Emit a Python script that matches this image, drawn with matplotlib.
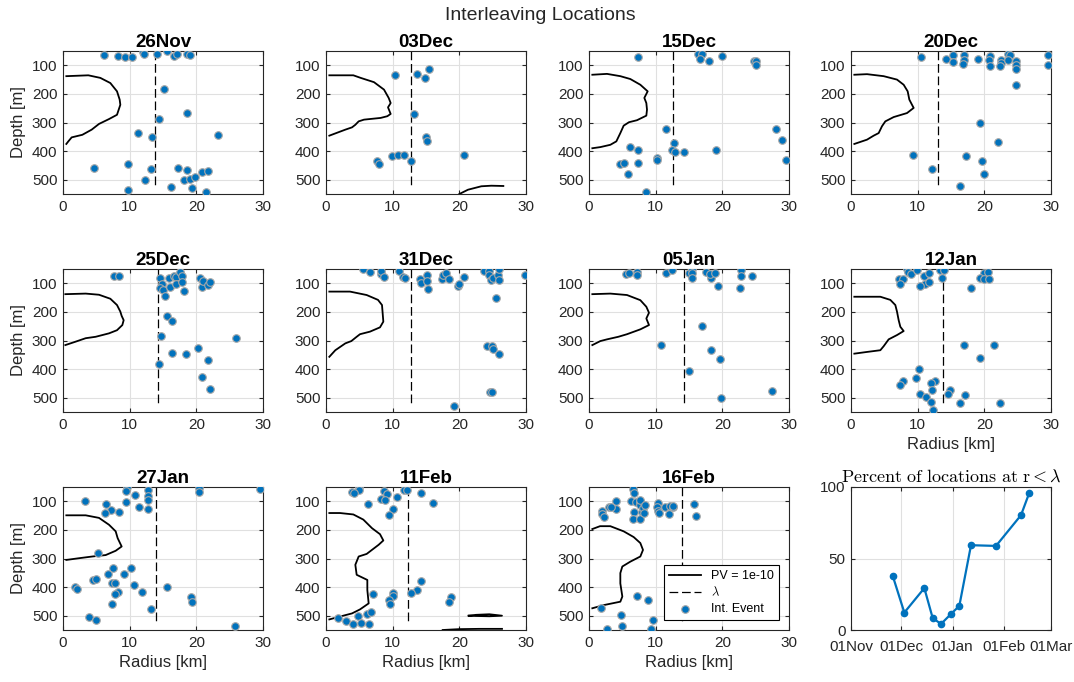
import numpy as np
import matplotlib.pyplot as plt
import matplotlib.dates as mdates
from datetime import datetime

plt.rcParams['font.family'] = ['Liberation Sans', 'DejaVu Sans']
plt.rcParams['mathtext.fontset'] = 'cm'

BLUE = '#0072BD'
DARK = '#262626'

# ---- interleaving events (radius km, depth m), lambda, PV = 1e-10 contour ----
r_26nov = [6.1, 8.2, 9.3, 10.3, 12.0, 12.2, 14.1, 15.6, 16.6, 17.1, 18.6, 19.1, 15.2, 18.6, 14.4, 11.3, 13.4,
           23.3, 4.6, 9.7, 13.2, 12.3, 17.3, 18.6, 18.2, 19.0, 19.8, 20.8, 21.8, 16.2, 19.3, 21.5, 9.8]
z_26nov = [63, 66, 72, 71, 55, 60, 59, 50, 67, 60, 59, 65, 183, 268, 288, 338, 352,
           344, 460, 444, 464, 501, 460, 466, 501, 498, 489, 473, 471, 527, 530, 542, 536]
lam_26nov = 13.8
pv_26nov = [([0.5, 3.8, 5.6, 7.1, 8.1, 8.5, 8.6, 8.1, 6.9, 5.4, 4.3, 2.9, 1.3, 0.8, 0.5],
             [138, 135, 144, 162, 191, 220, 238, 273, 288, 305, 325, 343, 352, 366, 375])]

r_03dec = [10.4, 13.7, 15.5, 14.9, 13.2, 15.0, 15.2, 7.6, 8.0, 9.9, 10.8, 11.7, 12.7, 20.7]
z_03dec = [134, 130, 112, 144, 271, 350, 364, 436, 446, 418, 414, 413, 436, 413]
lam_03dec = 12.8
pv_03dec = [([0.5, 4.1, 5.2, 7.2, 8.7, 9.4, 9.7, 9.3, 9.7, 9.2, 8.2, 5.7, 4.9, 4.4, 3.9, 2.9, 0.5],
             [135, 135, 144, 159, 185, 214, 232, 247, 270, 278, 284, 290, 296, 308, 317, 325, 346]),
            ([20.0, 21.3, 23.3, 24.8, 26.6], [550, 535, 523, 521, 522])]

r_15dec = [7.3, 16.3, 17.0, 16.6, 18.0, 20.0, 24.7, 25.0, 25.1, 28.0, 28.9, 29.6, 11.6, 12.8, 12.5, 12.9,
           14.3, 19.1, 6.2, 7.4, 10.2, 10.2, 4.6, 5.2, 7.4, 5.8, 8.5]
z_15dec = [70, 60, 60, 78, 85, 66, 86, 84, 100, 323, 360, 430, 323, 372, 397, 403,
           402, 396, 386, 397, 423, 430, 445, 442, 443, 479, 543]
lam_15dec = 12.6
pv_15dec = [([0.5, 2.7, 4.7, 6.2, 7.7, 8.8, 8.3, 8.6, 8.7, 8.6, 7.2, 6.0, 5.2, 4.7, 4.1, 3.2, 1.7, 0.5],
             [133, 130, 138, 148, 168, 191, 214, 232, 255, 276, 292, 299, 311, 337, 366, 378, 386, 390])]

r_20dec = [10.5, 14.3, 15.3, 15.3, 16.9, 16.9, 16.8, 19.1, 20.8, 20.7, 20.9, 22.5, 22.5, 22.4, 23.6, 23.8,
           23.6, 24.8, 24.8, 24.8, 24.8, 29.6, 29.6, 19.4, 22.0, 9.3, 17.3, 19.6, 20.0, 12.1, 16.3]
z_20dec = [72, 77, 64, 88, 64, 80, 95, 79, 66, 82, 101, 80, 91, 103, 62, 65,
           81, 86, 98, 114, 170, 65, 99, 302, 368, 412, 418, 433, 480, 462, 521]
lam_20dec = 13.1
pv_20dec = [([0.5, 2.4, 4.9, 6.9, 7.9, 8.5, 8.75, 9.15, 9.4, 8.4, 6.4, 5.15, 4.65, 4.15, 3.4, 2.4, 0.5],
             [133, 131, 138, 150, 168, 191, 220, 238, 249, 267, 281, 296, 313, 337, 346, 360, 375])]

r_25dec = [7.7, 8.4, 14.6, 14.9, 14.6, 15.0, 15.3, 15.9, 16.0, 16.7, 17.0, 16.9, 17.5, 17.9, 17.9, 18.1,
           20.6, 20.8, 21.0, 21.8, 22.1, 15.6, 16.4, 14.7, 26.0, 16.3, 18.5, 20.3, 21.8, 14.4, 20.9, 22.1]
z_25dec = [74, 74, 80, 104, 116, 122, 145, 81, 112, 74, 79, 102, 62, 74, 97, 128,
           83, 112, 91, 107, 95, 215, 232, 286, 290, 345, 347, 327, 367, 381, 427, 471]
lam_25dec = 14.3
pv_25dec = [([0.35, 3.4, 5.4, 7.1, 8.1, 8.6, 8.8, 9.1, 8.9, 8.1, 6.9, 4.9, 3.4, 1.9, 0.35],
             [138, 136, 140, 154, 176, 199, 214, 229, 246, 264, 275, 287, 292, 304, 316])]

r_31dec = [5.5, 6.6, 8.2, 8.3, 8.7, 10.9, 11.6, 11.9, 14.1, 14.2, 15.2, 15.2, 15.3, 17.4, 17.5, 18.0, 18.4,
           19.8, 20.0, 20.7, 23.7, 24.4, 24.5, 24.7, 25.0, 25.8, 25.9, 25.9, 29.8, 25.5, 24.2, 24.9, 25.0,
           26.0, 24.6, 24.9, 19.2]
z_31dec = [51, 61, 66, 56, 77, 58, 77, 80, 85, 100, 72, 92, 119, 84, 72, 63, 84,
           111, 102, 78, 56, 56, 72, 89, 81, 72, 50, 88, 72, 151, 320, 319, 330,
           347, 479, 479, 530]
lam_31dec = 12.8
pv_31dec = [([0.5, 3.6, 6.1, 7.8, 8.4, 8.5, 8.6, 8.1, 6.6, 5.1, 4.6, 3.8, 2.9, 1.4, 0.5],
             [129, 129, 141, 158, 176, 205, 234, 254, 269, 278, 287, 302, 310, 334, 357])]

r_05jan = [5.5, 6.0, 7.2, 7.2, 11.5, 12.4, 15.0, 15.4, 15.4, 15.4, 17.6, 18.3, 18.2, 18.9, 19.3, 22.8,
           22.8, 24.4, 22.7, 17.0, 10.8, 18.3, 19.7, 15.0, 19.8, 27.5]
z_05jan = [69, 64, 61, 72, 64, 52, 63, 51, 63, 83, 62, 81, 69, 64, 108, 55,
           74, 74, 115, 250, 314, 333, 366, 407, 501, 476]
lam_05jan = 14.2
pv_05jan = [([0.5, 3.2, 5.7, 7.7, 8.6, 9.0, 8.6, 9.0, 7.7, 5.7, 4.4, 2.7, 1.7, 0.5],
             [138, 136, 141, 159, 182, 203, 223, 246, 261, 278, 287, 296, 302, 316])]

r_12jan = [8.35, 8.55, 9.0, 9.9, 7.25, 7.85, 7.3, 10.95, 11.75, 11.15, 11.65, 10.3, 13.35, 13.9, 13.6,
           20.0, 20.55, 19.4, 20.0, 20.65, 17.95, 17.0, 21.4, 19.4, 10.15, 9.7, 7.8, 7.4, 12.55, 11.95,
           12.2, 10.3, 11.2, 12.05, 12.35, 14.85, 14.6, 17.05, 16.4, 22.4]
z_12jan = [50, 60, 67, 52, 86, 85, 104, 73, 65, 101, 95, 110, 52, 52, 82,
           63, 61, 81, 84, 84, 115, 316, 315, 362, 401, 432, 443, 456, 441, 447,
           474, 488, 498, 516, 544, 474, 487, 492, 518, 518]
lam_12jan = 13.8
pv_12jan = [([0.5, 4.4, 5.9, 6.65, 6.9, 7.15, 7.4, 7.9, 6.9, 5.65, 4.9, 4.4, 2.4, 0.5],
             [147, 147, 158, 176, 199, 229, 252, 267, 281, 296, 320, 334, 340, 346])]

r_27jan = [9.6, 9.5, 10.75, 12.8, 12.7, 12.8, 12.7, 11.4, 9.45, 3.3, 6.5, 7.25, 6.3, 8.35, 20.35, 20.35,
           29.6, 5.2, 7.55, 10.2, 6.8, 9.2, 4.5, 5.0, 7.4, 7.8, 10.7, 1.85, 2.05, 8.25, 7.75, 11.9, 7.4,
           13.25, 15.6, 19.25, 19.4, 3.9, 5.0, 25.8]
z_27jan = [50, 64, 77, 62, 82, 94, 128, 119, 104, 98, 109, 129, 140, 136, 52, 66,
           56, 282, 332, 332, 354, 355, 375, 373, 384, 386, 393, 398, 405, 416, 424, 416, 458,
           478, 398, 436, 451, 506, 515, 535]
lam_27jan = 13.9
pv_27jan = [([0.5, 3.4, 5.4, 6.9, 7.9, 8.2, 8.8, 7.9, 6.4, 4.4, 2.4, 0.5],
             [149, 149, 158, 182, 205, 229, 258, 273, 288, 293, 299, 305])]

r_11feb = [4.9, 4.9, 3.9, 4.2, 8.7, 9.1, 8.3, 8.8, 10.6, 11.7, 12.2, 14.3, 6.3, 16.0, 10.0, 9.5, 14.2,
           13.6, 12.7, 7.0, 10.0, 10.1, 9.4, 9.6, 18.7, 18.5, 1.75, 4.8, 6.1, 6.8, 3.0, 4.0, 5.3, 6.4]
z_11feb = [50, 59, 67, 71, 63, 76, 91, 96, 84, 60, 62, 70, 109, 106, 126, 148, 378,
           411, 420, 425, 419, 431, 444, 460, 433, 452, 507, 500, 494, 488, 520, 530, 525, 530]
lam_11feb = 12.3
pv_11feb = [([0.5, 2.1, 4.1, 5.6, 6.9, 8.1, 8.6, 7.9, 6.1, 4.9, 4.4, 4.6, 6.2, 6.2, 6.4, 5.1, 3.9, 2.1, 0.5],
             [141, 141, 146, 164, 194, 215, 237, 252, 284, 293, 322, 357, 375, 410, 457, 478, 492, 503, 513]),
            ([21.4, 22.5, 24.5, 26.4, 24.5, 22.5, 21.4], [500, 497, 495, 500, 502, 501, 500]),
            ([17.5, 20.0, 23.0, 26.4], [550, 547, 546, 546])]

r_16feb = [6.55, 6.8, 6.3, 7.0, 6.75, 6.55, 7.6, 7.6, 7.7, 7.95, 7.7, 8.05, 8.4, 8.2, 4.0, 4.05, 2.95,
           3.25, 2.0, 2.0, 2.2, 10.3, 10.15, 10.35, 10.5, 11.4, 12.0, 12.2, 12.55, 12.6, 15.8, 16.05,
           1.8, 7.2, 8.9, 4.85, 4.9, 2.7, 9.6, 9.25]
z_16feb = [56, 72, 98, 102, 136, 161, 104, 113, 95, 136, 161, 125, 113, 142, 100, 127, 119,
           119, 135, 143, 155, 107, 119, 133, 141, 119, 145, 118, 119, 115, 109, 150,
           472, 430, 445, 499, 535, 545, 514, 547]
lam_16feb = 13.9
pv_16feb = [([0.5, 1.65, 3.2, 5.2, 6.7, 7.7, 8.1, 7.7, 6.2, 5.0, 4.7, 4.7, 5.0, 4.7, 2.2, 0.5],
             [197, 187, 187, 205, 225, 246, 270, 293, 311, 328, 351, 387, 433, 451, 463, 474]),
            ([21.0, 23.5, 26.4, 23.5, 21.0], [507, 504, 509, 511, 507])]

# ---- percent of locations inside lambda ----
pct_dates = ['2017-11-26', '2017-12-03', '2017-12-15', '2017-12-20', '2017-12-25', '2017-12-31',
             '2018-01-05', '2018-01-12', '2018-01-27', '2018-02-11', '2018-02-16']
pct_vals = [38.0, 12.2, 29.3, 8.4, 4.2, 11.2, 16.9, 59.3, 58.8, 80.3, 96.0]

panels = [
    ('26Nov', r_26nov, z_26nov, lam_26nov, pv_26nov),
    ('03Dec', r_03dec, z_03dec, lam_03dec, pv_03dec),
    ('15Dec', r_15dec, z_15dec, lam_15dec, pv_15dec),
    ('20Dec', r_20dec, z_20dec, lam_20dec, pv_20dec),
    ('25Dec', r_25dec, z_25dec, lam_25dec, pv_25dec),
    ('31Dec', r_31dec, z_31dec, lam_31dec, pv_31dec),
    ('05Jan', r_05jan, z_05jan, lam_05jan, pv_05jan),
    ('12Jan', r_12jan, z_12jan, lam_12jan, pv_12jan),
    ('27Jan', r_27jan, z_27jan, lam_27jan, pv_27jan),
    ('11Feb', r_11feb, z_11feb, lam_11feb, pv_11feb),
    ('16Feb', r_16feb, z_16feb, lam_16feb, pv_16feb),
]

W, H = 1074, 682
fig = plt.figure(figsize=(W / 100, H / 100), dpi=100)
lefts = [63, 326, 589, 851]
tops = [51, 269, 487]
aw, ah = 200, 143


def add_ax(i):
    row, col = divmod(i, 4)
    return fig.add_axes([lefts[col] / W, 1 - (tops[row] + ah) / H, aw / W, ah / H])


def style(ax):
    ax.grid(True, color='#e0e0e0', lw=0.8)
    ax.set_axisbelow(True)
    for s in ax.spines.values():
        s.set_color(DARK)
        s.set_linewidth(0.8)
    ax.tick_params(direction='in', length=3, width=0.8, colors=DARK, labelsize=11,
                   top=True, right=True, pad=4)


for i, (name, r, z, lam, pv) in enumerate(panels):
    ax = add_ax(i)
    style(ax)
    for k, (pr, pz) in enumerate(pv):
        ax.plot(pr, pz, color='k', lw=1.3, label='PV = 1e-10' if k == 0 else None)
    ax.plot([lam, lam], [50, 530], color='k', lw=0.9, dashes=(7, 3), label=r'$\lambda$')
    ax.scatter(r, z, s=30, color=BLUE, edgecolors='#a8a8a8', linewidths=0.8, zorder=3,
               label='Int. Event')
    ax.set_xlim(0, 30)
    ax.set_ylim(550, 50)
    ax.set_xticks([0, 10, 20, 30])
    ax.set_yticks([100, 200, 300, 400, 500])
    ax.set_title(name, fontsize=13.5, fontweight='bold', pad=3)
    if i % 4 == 0:
        ax.set_ylabel('Depth [m]', fontsize=12, color=DARK)
    if i >= 7:
        ax.set_xlabel('Radius [km]', fontsize=12, color=DARK)
    if name == '16Feb':
        leg = ax.legend(loc='lower right', fontsize=9, frameon=True, fancybox=False,
                        edgecolor='k', framealpha=1, borderaxespad=0.8, handlelength=2.6,
                        borderpad=0.4, labelspacing=0.3)
        leg.get_frame().set_linewidth(0.8)

# percent of locations at r < lambda
ax = add_ax(11)
style(ax)
d = [datetime.strptime(s, '%Y-%m-%d') for s in pct_dates]
ax.plot(d, pct_vals, color=BLUE, lw=1.6, marker='o', ms=4.5)
ax.set_xlim(datetime(2017, 11, 1), datetime(2018, 3, 1))
ax.set_ylim(0, 100)
ax.set_yticks([0, 50, 100])
ax.set_xticks([datetime(2017, 11, 1), datetime(2017, 12, 1), datetime(2018, 1, 1),
               datetime(2018, 2, 1), datetime(2018, 3, 1)])
ax.xaxis.set_major_formatter(mdates.DateFormatter('%d%b'))
ax.tick_params(axis='x', pad=7)
ax.set_title(r'$\mathrm{Percent\ of\ locations\ at\ r} < \lambda$', fontsize=13, pad=4)

fig.text(540 / W, 1 - 16 / H, 'Interleaving Locations', ha='center', va='center', fontsize=14,
         color=DARK)

fig.savefig('out.png', dpi=100)
